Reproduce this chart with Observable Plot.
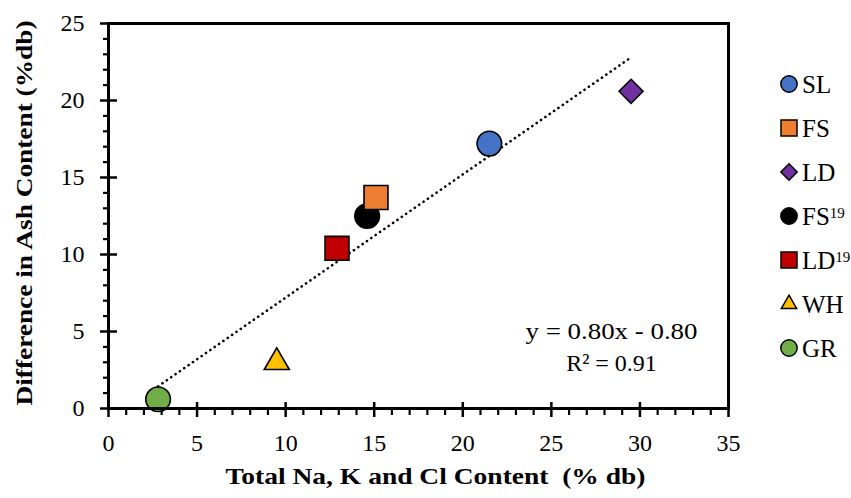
<!DOCTYPE html>
<html><head><meta charset="utf-8">
<script src="https://cdn.jsdelivr.net/npm/d3@7"></script>
<script src="https://cdn.jsdelivr.net/npm/@observablehq/plot@0.6"></script>
<style>
body{margin:0;background:#fff;}
#wrap{position:relative;width:851px;height:498px;font-family:"Liberation Serif","Times New Roman",serif;}
.item{position:absolute;left:779px;display:flex;align-items:center;font-size:25px;line-height:25px;white-space:nowrap;color:#000;}
.item svg{margin-right:3px;}
.item sup{font-size:15px;line-height:0;vertical-align:7px;}
</style></head><body><div id="wrap"></div>
<script>
// ---- data ----
const samples = ["SL", "FS", "LD", "FS¹⁹", "LD¹⁹", "WH", "GR"];
const naKClContent = [21.5, 15.1, 29.5, 14.6, 12.9, 9.5, 2.8];
const ashDifference = [17.2, 13.7, 20.6, 12.5, 10.4, 3.0, 0.6];
const fitSlope = 0.80;
const fitIntercept = -0.80;
const fitR2 = 0.91;
const xTickValues = [0, 5, 10, 15, 20, 25, 30, 35];
const yTickValues = [0, 5, 10, 15, 20, 25];
const xMinorTickValues = [1,2,3,4,6,7,8,9,11,12,13,14,16,17,18,19,21,22,23,24,26,27,28,29,31,32,33,34];
const yMinorTickValues = [1,2,3,4,6,7,8,9,11,12,13,14,16,17,18,19,21,22,23,24];
const xLabel = "Total Na, K and Cl Content  (% db)";
const yLabel = "Difference in Ash Content (%db)";

// ---- styles ----
const markerStyle = {
  "SL":   {symbol: "circle",   fill: "#4472C4"},
  "FS":   {symbol: "square",   fill: "#ED7D31"},
  "LD":   {symbol: "diamond2", fill: "#7030A0"},
  "FS¹⁹": {symbol: "circle",   fill: "#000000"},
  "LD¹⁹": {symbol: "square",   fill: "#C00000"},
  "WH":   {symbol: "triangle", fill: "#FFC000"},
  "GR":   {symbol: "circle",   fill: "#70AD47"}
};
const symbolRadius = {circle: 12.3, square: 13.5, diamond2: 10.8, triangle: 9.3};
const legendSize = {circle: 210, square: 256, diamond2: 170, triangle: 100};
const d3Symbol = {circle: d3.symbolCircle, square: d3.symbolSquare, diamond2: d3.symbolDiamond2, triangle: d3.symbolTriangle};

const rows = samples.map((s, i) => ({sample: s, x: naKClContent[i], y: ashDifference[i], ...markerStyle[s]}));
const xExtent = d3.extent(naKClContent);
const fitLine = xExtent.map(x => ({x, y: fitSlope * x + fitIntercept}));

const W = 851, H = 498, mL = 108, mR = 123, mT = 23, mB = 90;
const innerW = W - mL - mR, innerH = H - mT - mB;
const font = "Liberation Serif";
const eqText = `y = ${fitSlope.toFixed(2)}x ${fitIntercept < 0 ? "-" : "+"} ${Math.abs(fitIntercept).toFixed(2)}`;
const r2Text = `R² = ${fitR2.toFixed(2)}`;

const dotMarks = Object.keys(symbolRadius).map(sym =>
  Plot.dot(rows.filter(d => d.symbol === sym), {
    x: "x", y: "y", symbol: sym, r: symbolRadius[sym],
    fill: d => d.fill, stroke: "black", strokeWidth: 1.6
  })
);

const chart = Plot.plot({
  width: W, height: H,
  marginLeft: mL, marginRight: mR, marginTop: mT, marginBottom: mB,
  style: {fontFamily: font, fontSize: "24px", color: "black", background: "white", overflow: "visible"},
  x: {domain: [0, 35]},
  y: {domain: [0, 25]},
  marks: [
    Plot.axisX(xTickValues, {tickSize: 0, tickPadding: 25, fontSize: 24, label: null}),
    Plot.axisY(yTickValues, {tickSize: 0, tickPadding: 24, fontSize: 24, label: null}),
    Plot.line(fitLine, {x: "x", y: "y", stroke: "black", strokeWidth: 2.6, strokeDasharray: "0.1 5.2", strokeLinecap: "round"}),
    ...dotMarks,
    Plot.tickX(xTickValues, {x: d => d, stroke: "black", strokeWidth: 2.5, insetTop: innerH - 15, dy: 9}),
    Plot.tickX(xMinorTickValues, {x: d => d, stroke: "black", strokeWidth: 2.2, insetTop: innerH - 7, dy: 7}),
    Plot.tickY(yTickValues, {y: d => d, stroke: "black", strokeWidth: 2.5, insetRight: innerW - 17, dx: -8}),
    Plot.tickY(yMinorTickValues, {y: d => d, stroke: "black", strokeWidth: 2.2, insetRight: innerW - 5, dx: -5}),
    Plot.frame({stroke: "black", strokeWidth: 3}),
    Plot.text([eqText], {frameAnchor: "bottom-right", dx: -117, dy: -70, textAnchor: "middle", fontSize: 24, fill: "black"}),
    Plot.text([r2Text], {frameAnchor: "bottom-right", dx: -117, dy: -38, textAnchor: "middle", fontSize: 24, fill: "black"}),
    Plot.text([xLabel], {frameAnchor: "bottom", dx: 17, dy: 75, textAnchor: "middle", fontWeight: "bold", fontSize: 24, fill: "black"}),
    Plot.text([yLabel], {frameAnchor: "left", dx: -84, dy: -3, textAnchor: "middle", rotate: -90, fontWeight: "bold", fontSize: 24, fill: "black"})
  ]
});

// stretch the wide reference glyphs horizontally
const stretch = {[xLabel]: 420, [yLabel]: 385, [eqText]: 172};
d3.select(chart).selectAll("text").each(function() {
  const t = this.textContent;
  if (stretch[t]) d3.select(this).attr("textLength", stretch[t]).attr("lengthAdjust", "spacingAndGlyphs");
});

const wrap = document.getElementById("wrap");
wrap.appendChild(chart);

// ---- legend ----
const supMap = {"¹": "1", "⁹": "9"};
samples.forEach((s, i) => {
  const st = markerStyle[s];
  const item = document.createElement("div");
  item.className = "item";
  item.style.top = (84 + i * 44 - 12.5) + "px";
  const svg = d3.create("svg").attr("width", 20).attr("height", 20);
  svg.append("path")
    .attr("transform", "translate(10,10)")
    .attr("d", d3.symbol(d3Symbol[st.symbol], legendSize[st.symbol])())
    .attr("fill", st.fill).attr("stroke", "black").attr("stroke-width", 1.5);
  item.appendChild(svg.node());
  const span = document.createElement("span");
  const m = s.match(/^([^¹⁹]+)([¹⁹]*)$/);
  span.textContent = m[1];
  if (m[2]) {
    const sup = document.createElement("sup");
    sup.textContent = [...m[2]].map(c => supMap[c]).join("");
    span.appendChild(sup);
  }
  item.appendChild(span);
  wrap.appendChild(item);
});
</script>
</body></html>
